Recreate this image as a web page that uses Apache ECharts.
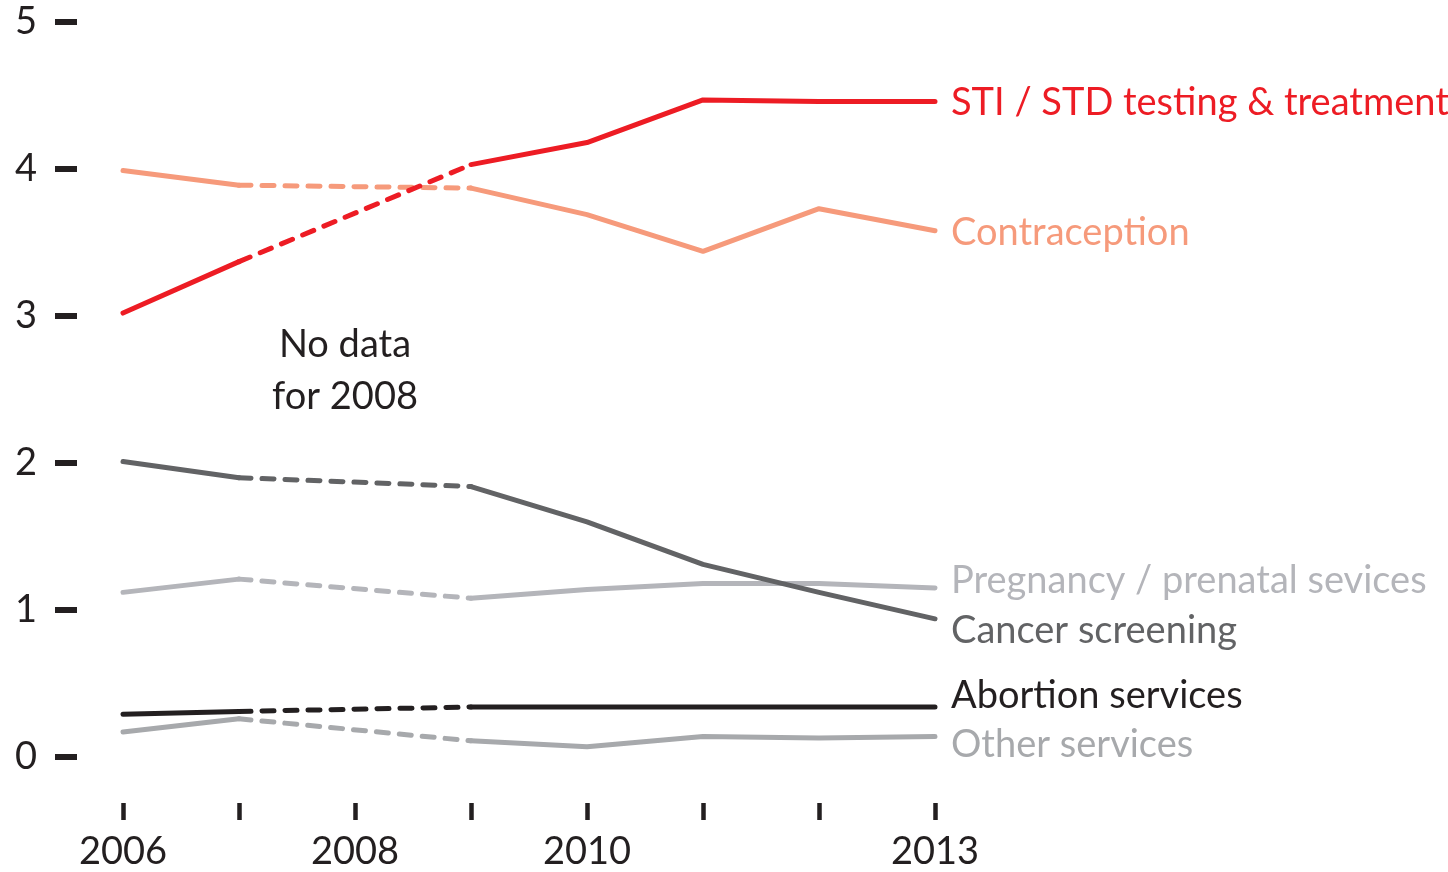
<!DOCTYPE html>
<html>
<head>
<meta charset="utf-8">
<script src="https://cdn.jsdelivr.net/npm/echarts@6/dist/echarts.min.js"></script>
<style>
html,body{margin:0;padding:0;background:#fff;}
#chart{width:1448px;height:872px;}
</style>
</head>
<body>
<div id="chart"></div>
<script>
var years = ['2006','2007','2008','2009','2010','2011','2012','2013'];
var xTickLabels = ['2006','2008','2010','2013'];
var yTicks = [0,1,2,3,4,5];
var gapYears = ['2007','2009'];

var sti           = [3.02, 3.37, null, 4.03, 4.18, 4.47, 4.46, 4.46];
var contraception = [3.99, 3.89, null, 3.87, 3.69, 3.44, 3.73, 3.58];
var cancer        = [2.01, 1.90, null, 1.84, 1.60, 1.31, 1.12, 0.94];
var pregnancy     = [1.12, 1.21, null, 1.08, 1.14, 1.18, 1.18, 1.15];
var abortion      = [0.29, 0.31, null, 0.34, 0.34, 0.34, 0.34, 0.34];
var other         = [0.17, 0.26, null, 0.11, 0.07, 0.14, 0.13, 0.14];

var seriesNames = ['Other services','Abortion services','Pregnancy / prenatal sevices','Cancer screening','Contraception','STI / STD testing & treatment'];
var seriesData = [other, abortion, pregnancy, cancer, contraception, sti];
var colors = ['#a7a9ac','#231f20','#b4b5ba','#626365','#f69a7b','#ed1c24'];
var labelDy = [8, -11, -7, 12, 2, 1];

var FONT = 'Lato, "Open Sans", sans-serif';
var series = [];
seriesData.forEach(function(d, i){
  // dashed bridge over the missing year
  var bridge = d.map(function(v, j){ return gapYears.indexOf(years[j]) >= 0 ? v : null; });
  series.push({
    type:'line', name: seriesNames[i] + ' (no data)', data: bridge, connectNulls: true,
    symbol:'none', silent:true, z: 2 + i,
    lineStyle:{color: colors[i], width: 5, type: [12, 11], cap:'round', join:'round'}
  });
  series.push({
    type:'line', name: seriesNames[i], data: d, connectNulls: false,
    symbol:'none', silent:true, z: 2 + i,
    lineStyle:{color: colors[i], width: 5, cap:'round', join:'round'},
    endLabel:{show:true, formatter: seriesNames[i], color: colors[i], fontSize: 38,
      fontFamily: FONT, distance: 16, offset:[0, labelDy[i]]}
  });
});

var chart = echarts.init(document.getElementById('chart'), null, {renderer:'canvas'});
chart.setOption({
  animation:false,
  backgroundColor:'#fff',
  grid:[
    {left:123, right:513, top:22, bottom:115, containLabel:false},
    {left:123, right:513, top:790, height:13, containLabel:false}
  ],
  xAxis:[{
    type:'category', data: years, boundaryGap:false, gridIndex:0,
    axisLine:{show:false}, axisTick:{show:false}, axisLabel:{show:false}, splitLine:{show:false}
  },{
    type:'category', data: years, boundaryGap:false, gridIndex:1, position:'bottom',
    axisLine:{show:false},
    axisTick:{show:true, interval:0, length:17, lineStyle:{color:'#231f20', width:4.5}},
    axisLabel:{interval:0, margin:30, fontSize:38, fontFamily: FONT, color:'#231f20',
      formatter:function(v){ return xTickLabels.indexOf(v) >= 0 ? v : ''; }},
    splitLine:{show:false}
  }],
  yAxis:[{
    type:'value', min: yTicks[0], max: yTicks[yTicks.length-1], interval:1, offset: 46, gridIndex:0,
    axisLine:{show:false},
    axisTick:{show:true, length:22, lineStyle:{color:'#231f20', width:6}},
    axisLabel:{margin:40, fontSize:38, fontFamily: FONT, color:'#231f20'},
    splitLine:{show:false}
  },{
    type:'value', gridIndex:1, show:false
  }],
  graphic:[{
    type:'text', left: 272, top: 319,
    style:{text:'No data\nfor 2008', font:'38px ' + FONT, fill:'#231f20', textAlign:'center', lineHeight:52}
  }],
  series: series
});
</script>
</body>
</html>
